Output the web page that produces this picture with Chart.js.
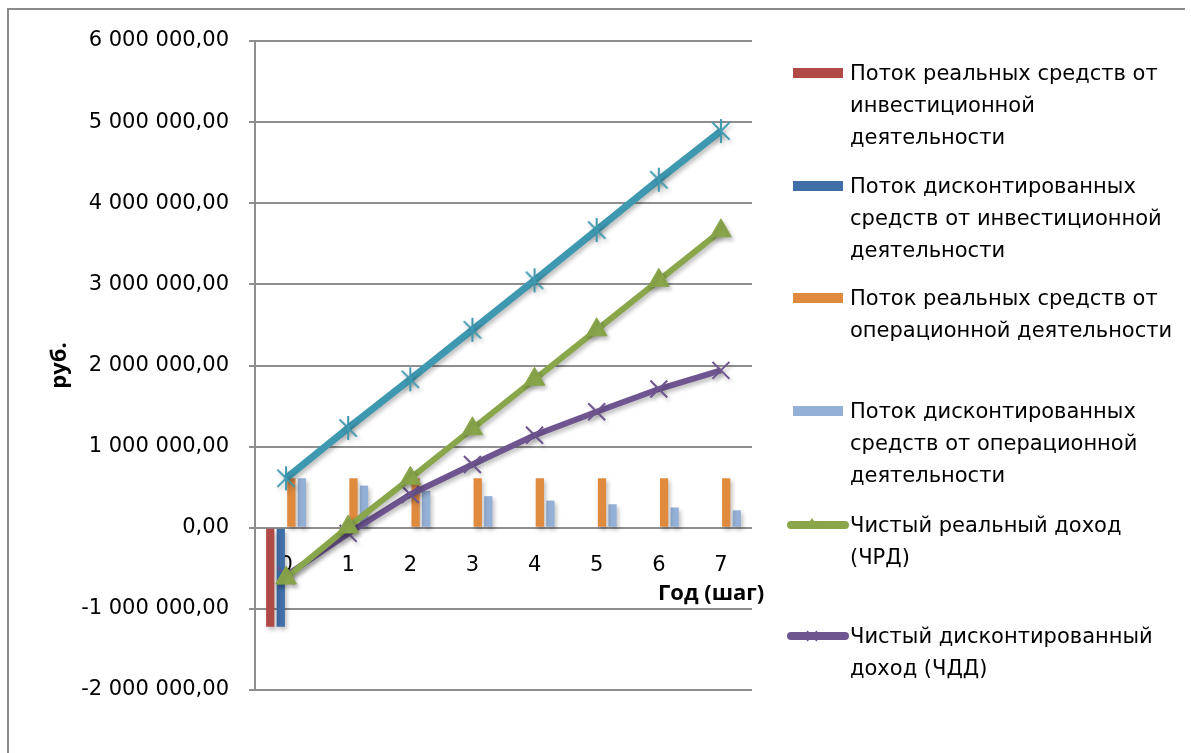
<!DOCTYPE html>
<html lang="ru">
<head>
<meta charset="utf-8">
<script src="https://cdn.jsdelivr.net/npm/chart.js@4.4.1/dist/chart.umd.min.js"></script>
<style>
  html, body { margin: 0; padding: 0; background: #fff; }
  #wrap { position: relative; width: 1191px; height: 753px; overflow: hidden; }
  #frame { position: absolute; left: 7px; top: 8px; width: 1176px; height: 800px;
    border-left: 2px solid #8a8a8a; border-top: 2px solid #8a8a8a; }
  canvas { position: absolute; left: 0; top: 0; }
  .leg { position: absolute; left: 850px; font-family: "DejaVu Sans", sans-serif;
    font-size: 21px; line-height: 32px; color: #000; white-space: nowrap; }
  .sw { position: absolute; left: 793px; width: 50px; height: 10px; }
  .lsw { position: absolute; left: 786px; }
  #xt { position: absolute; left: 658px; top: 576px; font-family: "Open Sans", sans-serif;
    font-weight: bold; font-size: 22px; color: #000; }
</style>
</head>
<body>
<div id="wrap">
  <div id="frame"></div>
  <canvas id="chart" width="1191" height="753"></canvas>
  <div id="xt">Год (шаг)</div>
  <div id="legend"></div>
</div>
<script>
// years (steps)
const years = ["0", "1", "2", "3", "4", "5", "6", "7"];

// cash flows, rub.
const investReal = [-1220000, null, null, null, null, null, null, null];
const investDisc = [-1220000, null, null, null, null, null, null, null];
const operReal = [610000, 610000, 610000, 610000, 610000, 610000, 610000, 610000];
const operDisc = [610000, 520000, 455000, 390000, 335000, 290000, 250000, 215000];
const operCum = [610000, 1230000, 1830000, 2440000, 3050000, 3670000, 4290000, 4890000];
const netReal = [-620000, 10000, 610000, 1220000, 1830000, 2440000, 3050000, 3660000];
const netDisc = [-590000, -70000, 410000, 780000, 1140000, 1430000, 1710000, 1940000];

const yTicks = [-2000000, -1000000, 0, 1000000, 2000000, 3000000, 4000000, 5000000, 6000000];

const colors = {
  red: "#b04a47",
  blue: "#3f6fa6",
  orange: "#e08a3e",
  lightBlue: "#95b0d6",
  green: "#8aa64b",
  purple: "#6e5590",
  teal: "#3e98b0",
};

// "6 000 000,00"
function fmt(v) {
  const neg = v < 0;
  const parts = Math.abs(v).toFixed(2).split(".");
  const int = parts[0].replace(/\B(?=(\d{3})+(?!\d))/g, " ");
  return (neg ? "-" : "") + int + "," + parts[1];
}

// asterisk marker: an X with a vertical bar (no horizontal one)
function asteriskMarker(color, size) {
  const c = document.createElement("canvas");
  c.width = size;
  c.height = size;
  const g = c.getContext("2d");
  const m = size / 2;
  const r = size / 2 - 1;
  const d = r * 0.72;
  g.strokeStyle = color;
  g.lineWidth = 2;
  g.beginPath();
  g.moveTo(m - d, m - d); g.lineTo(m + d, m + d);
  g.moveTo(m + d, m - d); g.lineTo(m - d, m + d);
  g.moveTo(m, m - r); g.lineTo(m, m + r);
  g.stroke();
  return c;
}

// soft shadow under the marks, like the office chart
const shadowPlugin = {
  id: "shadow",
  beforeDatasetsDraw(chart) {
    const ctx = chart.ctx;
    ctx.save();
    ctx.shadowColor = "rgba(0,0,0,0.25)";
    ctx.shadowBlur = 4;
    ctx.shadowOffsetX = 2;
    ctx.shadowOffsetY = 3;
  },
  afterDatasetsDraw(chart) {
    chart.ctx.restore();
  },
};

const barOpts = { order: 2, categoryPercentage: 0.68, barPercentage: 0.78, borderWidth: 0 };

const ctx = document.getElementById("chart").getContext("2d");
const chart = new Chart(ctx, {
  type: "bar",
  data: {
    labels: years,
    datasets: [
      { label: "Поток реальных средств от инвестиционной деятельности", data: investReal, backgroundColor: colors.red, ...barOpts },
      { label: "Поток дисконтированных средств от инвестиционной деятельности", data: investDisc, backgroundColor: colors.blue, ...barOpts },
      { label: "Поток реальных средств от операционной деятельности", data: operReal, backgroundColor: colors.orange, ...barOpts },
      { label: "Поток дисконтированных средств от операционной деятельности", data: operDisc, backgroundColor: colors.lightBlue, ...barOpts },
      {
        type: "line", label: "Нарастающий поток", data: operCum, order: 0,
        borderColor: colors.teal, backgroundColor: colors.teal, borderWidth: 7,
        pointStyle: asteriskMarker(colors.teal, 26), pointRadius: 13,
      },
      {
        type: "line", label: "Чистый реальный доход (ЧРД)", data: netReal, order: 0,
        borderColor: colors.green, backgroundColor: colors.green, borderWidth: 6,
        pointStyle: "triangle", pointRadius: 12, pointBorderWidth: 1, pointBorderColor: colors.green,
      },
      {
        type: "line", label: "Чистый дисконтированный доход (ЧДД)", data: netDisc, order: 0,
        borderColor: colors.purple, backgroundColor: colors.purple, borderWidth: 6,
        pointStyle: "crossRot", pointRadius: 12, pointBorderWidth: 2, pointBorderColor: colors.purple,
      },
    ],
  },
  options: {
    responsive: false,
    animation: false,
    layout: { padding: { left: 0, right: 439, top: 41, bottom: 63 } },
    plugins: {
      legend: { display: false },
      tooltip: { enabled: false },
    },
    elements: { line: { tension: 0 } },
    scales: {
      x: {
        position: { y: 0 },
        offset: true,
        grid: { display: false },
        border: { display: false },
        ticks: { color: "#000", padding: 17, font: { family: "DejaVu Sans", size: 21 } },
      },
      y: {
        min: -2000000,
        max: 6000000,
        afterBuildTicks(scale) {
          scale.ticks = yTicks.map((v) => ({ value: v }));
        },
        afterFit(scale) {
          scale.width = 255;
        },
        grid: { color: "#8e8e8e", lineWidth: 2, tickLength: 6 },
        border: { color: "#8e8e8e", width: 2 },
        ticks: {
          color: "#000",
          padding: 20,
          font: { family: "DejaVu Sans", size: 21 },
          callback: (v) => fmt(v),
        },
        title: {
          display: true,
          text: "руб.",
          color: "#000",
          padding: { top: 47, bottom: 0 },
          font: { family: "Open Sans", size: 22, weight: "bold" },
        },
      },
    },
  },
  plugins: [shadowPlugin],
});

// legend on the right, built from the datasets (the running total is not listed)
const legendTops = [57, 170, 282, 395, 509, 620];
const legendLines = [
  ["Поток реальных средств от", "инвестиционной", "деятельности"],
  ["Поток дисконтированных", "средств от инвестиционной", "деятельности"],
  ["Поток реальных средств от", "операционной деятельности"],
  ["Поток дисконтированных", "средств от операционной", "деятельности"],
  ["Чистый реальный доход", "(ЧРД)"],
  ["Чистый дисконтированный", "доход (ЧДД)"],
];
const legendSets = [0, 1, 2, 3, 5, 6];
const legend = document.getElementById("legend");
legendSets.forEach((di, i) => {
  const ds = chart.data.datasets[di];
  const top = legendTops[i];
  const t = document.createElement("div");
  t.className = "leg";
  t.style.top = top + "px";
  t.innerHTML = legendLines[i].join("<br>");
  legend.appendChild(t);
  if (ds.type !== "line") {
    const s = document.createElement("div");
    s.className = "sw";
    s.style.top = top + 11 + "px";
    s.style.background = ds.backgroundColor;
    legend.appendChild(s);
  } else {
    const c = ds.borderColor;
    const mark = ds.pointStyle === "triangle"
      ? `<polygon points="26,4 33,14 19,14" fill="${c}"/>`
      : `<path d="M21,6 L31,16 M31,6 L21,16" stroke="${c}" stroke-width="1.5"/>`;
    const s = document.createElement("div");
    s.className = "lsw";
    s.style.top = top + 5 + "px";
    s.innerHTML = `<svg width="64" height="22"><line x1="5" y1="11" x2="59" y2="11" stroke="${c}" stroke-width="8" stroke-linecap="round"/>${mark}</svg>`;
    legend.appendChild(s);
  }
});
</script>
</body>
</html>
